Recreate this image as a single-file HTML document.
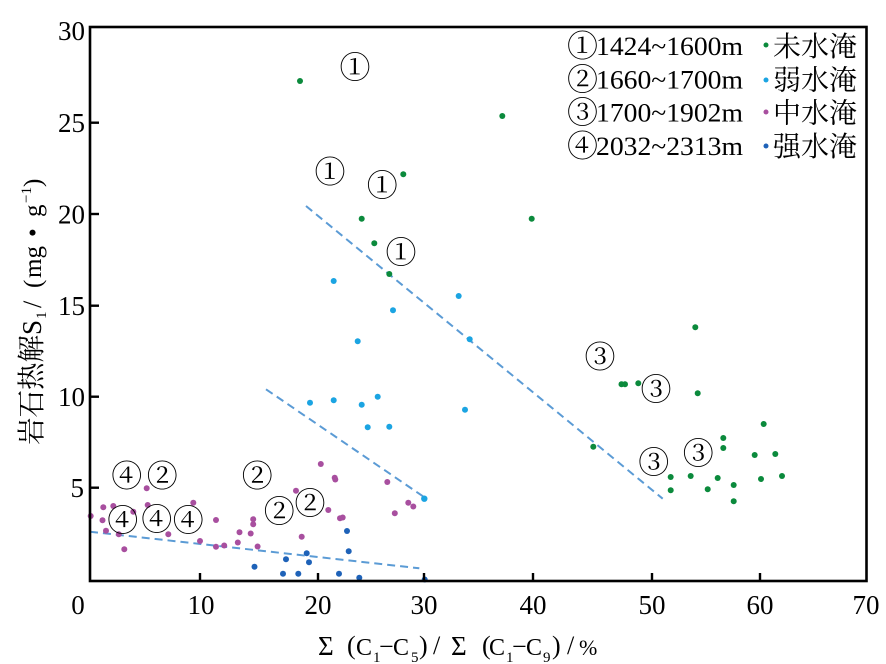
<!DOCTYPE html>
<html><head><meta charset="utf-8"><style>
html,body{margin:0;padding:0;background:#fff;}
svg{display:block;}
.tk{font-family:"Liberation Serif",serif;font-size:27px;fill:#000;}
.cir{font-family:"Noto Serif CJK SC","Noto Sans CJK SC",serif;font-size:31px;fill:#000;}
</style></head><body>
<svg width="886" height="664" viewBox="0 0 886 664" xmlns="http://www.w3.org/2000/svg">
<rect width="886" height="664" fill="#fff"/>
<!-- dashed trend lines -->
<g stroke="#5b9bd5" stroke-width="2" stroke-dasharray="8 5" fill="none">
<line x1="306" y1="206" x2="662.7" y2="498.7"/>
<line x1="266" y1="389.3" x2="424" y2="497"/>
<line x1="90" y1="531.7" x2="419.3" y2="568.3"/>
</g>
<!-- green -->
<g fill="#0b8a3c">
<circle cx="300" cy="81" r="3"/><circle cx="502.3" cy="116" r="3"/><circle cx="403.3" cy="174.3" r="3"/><circle cx="361.7" cy="218.7" r="3"/><circle cx="531.7" cy="218.7" r="3"/><circle cx="374.3" cy="243.3" r="3"/><circle cx="389.3" cy="274" r="3"/>
<circle cx="695.3" cy="327.3" r="3"/><circle cx="621.5" cy="384.3" r="3"/><circle cx="625" cy="384.3" r="3"/><circle cx="638.3" cy="383.3" r="3"/><circle cx="697.7" cy="393.3" r="3"/><circle cx="763.7" cy="424" r="3"/><circle cx="723.3" cy="438" r="3"/><circle cx="723.3" cy="448" r="3"/><circle cx="593.3" cy="446.7" r="3"/><circle cx="754.7" cy="455" r="3"/><circle cx="775.3" cy="454" r="3"/><circle cx="670.7" cy="477" r="3"/><circle cx="690.7" cy="476" r="3"/><circle cx="717.7" cy="478" r="3"/><circle cx="782" cy="476" r="3"/><circle cx="761" cy="479" r="3"/><circle cx="733.7" cy="485" r="3"/><circle cx="670.7" cy="490.3" r="3"/><circle cx="707.7" cy="489.3" r="3"/><circle cx="733.7" cy="501.3" r="3"/>
</g>
<!-- cyan -->
<g fill="#1ba4e2">
<circle cx="333.7" cy="281" r="3"/><circle cx="458.7" cy="296" r="3"/><circle cx="393" cy="310.3" r="3"/><circle cx="469.7" cy="339.3" r="3"/><circle cx="357.7" cy="341.3" r="3"/><circle cx="310" cy="402.7" r="3"/><circle cx="333.7" cy="400.3" r="3"/><circle cx="361.7" cy="404.7" r="3"/><circle cx="377.7" cy="396.7" r="3"/><circle cx="465" cy="409.7" r="3"/><circle cx="367.7" cy="427.3" r="3"/><circle cx="389.3" cy="426.7" r="3"/><circle cx="424.3" cy="498.7" r="3.2"/>
</g>
<!-- magenta -->
<g fill="#a84f9f">
<circle cx="90.7" cy="516" r="3"/><circle cx="103.3" cy="507.3" r="3"/><circle cx="113.3" cy="506" r="3"/><circle cx="102.5" cy="520.3" r="3"/><circle cx="106" cy="530.7" r="3"/><circle cx="118.8" cy="534.2" r="3"/><circle cx="124.3" cy="549.3" r="3"/><circle cx="146.7" cy="488.3" r="3"/><circle cx="147.7" cy="505" r="3"/><circle cx="133.3" cy="511.7" r="3"/><circle cx="193.3" cy="502.7" r="3"/><circle cx="168.3" cy="534.3" r="3"/><circle cx="200" cy="541" r="3"/><circle cx="216" cy="520" r="3"/><circle cx="216" cy="546.7" r="3"/><circle cx="224.2" cy="545.5" r="3"/><circle cx="237.8" cy="542.5" r="3"/><circle cx="239.5" cy="532.3" r="3"/><circle cx="250.7" cy="533.5" r="3"/><circle cx="253.2" cy="519.2" r="3"/><circle cx="253.2" cy="524.2" r="3"/><circle cx="257.6" cy="546.5" r="3"/><circle cx="296" cy="490.7" r="3"/><circle cx="301.7" cy="536.7" r="3"/><circle cx="320.8" cy="464" r="3"/><circle cx="334.7" cy="477.7" r="3"/><circle cx="335.3" cy="479.5" r="3"/><circle cx="328.3" cy="510" r="3"/><circle cx="340" cy="518.3" r="3"/><circle cx="342.7" cy="517.5" r="3"/><circle cx="387.3" cy="482" r="3"/><circle cx="394.8" cy="513.3" r="3"/><circle cx="408.3" cy="502.8" r="3"/><circle cx="413.3" cy="506.5" r="3"/>
</g>
<!-- blue -->
<g fill="#1e62b8">
<circle cx="254.5" cy="566.7" r="3"/><circle cx="347" cy="531" r="3"/><circle cx="348.7" cy="551.3" r="3"/><circle cx="306.7" cy="553.3" r="3"/><circle cx="286" cy="559.3" r="3"/><circle cx="309" cy="562.3" r="3"/><circle cx="283" cy="573.7" r="3"/><circle cx="298.3" cy="573.7" r="3"/><circle cx="339" cy="573.7" r="3"/><circle cx="359.3" cy="577.7" r="3"/><circle cx="424.7" cy="579.5" r="3"/>
</g>
<!-- circled labels -->
<g class="cir" text-anchor="middle">
<text x="355" y="78.6">①</text>
<text x="330" y="183">①</text>
<text x="382.3" y="196.3">①</text>
<text x="401" y="263.6">①</text>
<text x="600" y="368">③</text>
<text x="656" y="400.6">③</text>
<text x="698.3" y="464.6">③</text>
<text x="653.7" y="473.6">③</text>
<text x="162.3" y="487">②</text>
<text x="257.3" y="487">②</text>
<text x="279.3" y="522.3">②</text>
<text x="310" y="514.6">②</text>
<text x="126.7" y="487">④</text>
<text x="122.7" y="531.6">④</text>
<text x="156.7" y="530.6">④</text>
<text x="188.3" y="531.6">④</text>
</g>
<!-- axes -->
<g stroke="#000" fill="none">
<rect x="90" y="27" width="776.5" height="554" stroke-width="2.6"/>
<g stroke-width="2.4">
<line x1="90" y1="122.7" x2="99" y2="122.7"/>
<line x1="90" y1="214" x2="99" y2="214"/>
<line x1="90" y1="305.7" x2="99" y2="305.7"/>
<line x1="90" y1="396.7" x2="99" y2="396.7"/>
<line x1="90" y1="487.7" x2="99" y2="487.7"/>
<line x1="200" y1="581" x2="200" y2="573"/>
<line x1="318" y1="581" x2="318" y2="573"/>
<line x1="424" y1="581" x2="424" y2="573"/>
<line x1="533" y1="581" x2="533" y2="573"/>
<line x1="652" y1="581" x2="652" y2="573"/>
<line x1="760" y1="581" x2="760" y2="573"/>
</g>
</g>
<!-- y tick labels -->
<g class="tk" text-anchor="end">
<text x="85" y="40">30</text>
<text x="85" y="132">25</text>
<text x="85" y="223.5">20</text>
<text x="85" y="315">15</text>
<text x="85" y="406">10</text>
<text x="84" y="497">5</text>
</g>
<!-- x tick labels -->
<g class="tk" text-anchor="middle">
<text x="78" y="614">0</text>
<text x="201" y="614">10</text>
<text x="318" y="614">20</text>
<text x="424" y="614">30</text>
<text x="533" y="614">40</text>
<text x="652" y="614">50</text>
<text x="760" y="614">60</text>
<text x="866" y="614">70</text>
</g>
<!-- x axis title -->
<g font-family="Liberation Serif, serif" fill="#000">
<text x="318" y="655" font-size="27">Σ</text>
<text x="347" y="654" font-size="26">(</text>
<text x="356" y="655" font-size="24">C</text>
<text x="373" y="662" font-size="15">1</text>
<text x="379" y="655" font-size="26">−</text>
<text x="393" y="655" font-size="24">C</text>
<text x="411" y="662" font-size="15">5</text>
<text x="419" y="654" font-size="26">)</text>
<text x="433" y="654" font-size="26">/</text>
<text x="451" y="655" font-size="27">Σ</text>
<text x="482" y="654" font-size="26">(</text>
<text x="489" y="655" font-size="24">C</text>
<text x="506" y="662" font-size="15">1</text>
<text x="512" y="655" font-size="26">−</text>
<text x="526" y="655" font-size="24">C</text>
<text x="543" y="662" font-size="15">9</text>
<text x="552" y="654" font-size="26">)</text>
<text x="567" y="654" font-size="26">/</text>
<text x="579" y="655" font-size="22">%</text>
</g>
<!-- y axis title -->
<g transform="rotate(-90)" fill="#000">
<text x="-445" y="41" font-family="Noto Serif CJK SC, serif" font-size="28" textLength="110" lengthAdjust="spacingAndGlyphs">岩石热解</text>
<text x="-335" y="41" font-family="Liberation Serif, serif" font-size="27">S</text>
<text x="-319" y="46" font-family="Liberation Serif, serif" font-size="15">1</text>
<text x="-308" y="41" font-family="Liberation Serif, serif" font-size="26">/</text>
<text x="-288" y="41" font-family="Liberation Serif, serif" font-size="25">(</text>
<text x="-278" y="41" font-family="Liberation Serif, serif" font-size="25">mg</text>
<text x="-237" y="41" font-family="Liberation Serif, serif" font-size="25">•</text>
<text x="-217" y="41" font-family="Liberation Serif, serif" font-size="25">g</text>
<text x="-203" y="31" font-family="Liberation Serif, serif" font-size="15">−1</text>
<text x="-187" y="41" font-family="Liberation Serif, serif" font-size="25">)</text>
</g>
<!-- legend -->
<g fill="#000">
<g class="cir" font-size="30">
<text x="567" y="57">①</text>
<text x="567" y="90.5">②</text>
<text x="567" y="123.5">③</text>
<text x="567" y="157">④</text>
</g>
<g font-family="Liberation Serif, serif" font-size="26">
<text x="596" y="55" textLength="147" lengthAdjust="spacingAndGlyphs">1424~1600m</text>
<text x="596" y="88.5" textLength="147" lengthAdjust="spacingAndGlyphs">1660~1700m</text>
<text x="596" y="121.5" textLength="147" lengthAdjust="spacingAndGlyphs">1700~1902m</text>
<text x="596" y="155" textLength="147" lengthAdjust="spacingAndGlyphs">2032~2313m</text>
</g>
<g font-family="Noto Serif CJK SC, serif" font-size="28">
<text x="773" y="56" textLength="84" lengthAdjust="spacingAndGlyphs">未水淹</text>
<text x="773" y="89.5" textLength="84" lengthAdjust="spacingAndGlyphs">弱水淹</text>
<text x="773" y="122.5" textLength="84" lengthAdjust="spacingAndGlyphs">中水淹</text>
<text x="773" y="156" textLength="84" lengthAdjust="spacingAndGlyphs">强水淹</text>
</g>
</g>
<circle cx="766" cy="45" r="2.5" fill="#0b8a3c"/>
<circle cx="766" cy="80" r="2.5" fill="#1ba4e2"/>
<circle cx="766" cy="112" r="2.5" fill="#a84f9f"/>
<circle cx="766" cy="146" r="2.5" fill="#1e62b8"/>
</svg>
</body></html>
